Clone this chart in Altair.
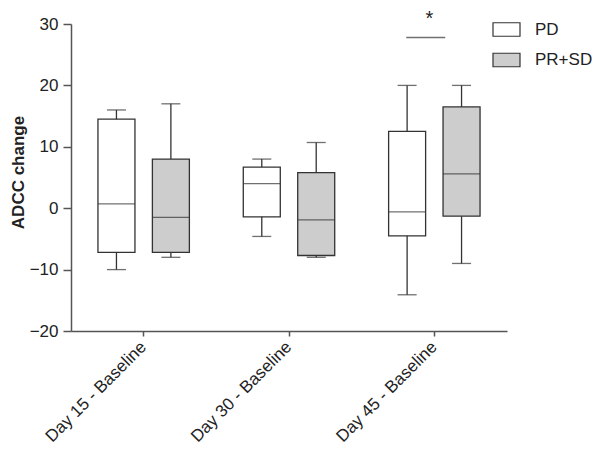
import altair as alt
import pandas as pd

categories = ["Day 15 - Baseline", "Day 30 - Baseline", "Day 45 - Baseline"]
groups = ["PD", "PR+SD"]

# box statistics (PD, PR+SD per category)
pd_low = [-10.0, -4.6, -14.1]
pd_q1 = [-7.2, -1.4, -4.5]
pd_med = [0.7, 4.0, -0.6]
pd_q3 = [14.5, 6.7, 12.5]
pd_high = [16.0, 8.0, 20.0]

prsd_low = [-8.0, -8.0, -9.0]
prsd_q1 = [-7.2, -7.7, -1.3]
prsd_med = [-1.5, -1.9, 5.6]
prsd_q3 = [8.0, 5.8, 16.5]
prsd_high = [17.0, 10.7, 20.0]

y_ticks = [-20, -10, 0, 10, 20, 30]

# significance annotation
sig_category = ["Day 45 - Baseline"]
sig_line_y = [27.8]
sig_star_y = [32.4]
sig_label = ["*"]

rows = []
for i, c in enumerate(categories):
    rows.append(dict(cat=c, grp="PD", low=pd_low[i], q1=pd_q1[i], med=pd_med[i], q3=pd_q3[i], high=pd_high[i]))
    rows.append(dict(cat=c, grp="PR+SD", low=prsd_low[i], q1=prsd_q1[i], med=prsd_med[i], q3=prsd_q3[i], high=prsd_high[i]))
df = pd.DataFrame(rows)
sig_df = pd.DataFrame(dict(cat=sig_category, y=sig_line_y, ys=sig_star_y, lab=sig_label))

INK = "#333333"
FONT = "Liberation Sans"

x_enc = alt.X(
    "cat:N",
    scale=alt.Scale(domain=categories, paddingInner=0, paddingOuter=0),
    axis=alt.Axis(
        title=None,
        labelAngle=-45,
        labelAlign="right",
        labelBaseline="middle",
        labelPadding=8,
        tickSize=5,
        labelFontSize=17,
        labelFont=FONT,
        labelColor="#222222",
        domainColor="#555555",
        tickColor="#555555",
        domainWidth=1.5,
        tickWidth=1.5,
    ),
)
xoff = alt.XOffset("grp:N", scale=alt.Scale(domain=groups, paddingInner=0, paddingOuter=0.335))
y_scale = alt.Scale(domain=[-20, 30], nice=False, zero=False)
y_axis = alt.Axis(
    title="ADCC change",
    values=y_ticks,
    grid=False,
    tickSize=8,
    labelPadding=5,
    labelFontSize=17,
    labelFont=FONT,
    labelColor="#222222",
    titleFont=FONT,
    titleFontSize=17,
    titleFontWeight="bold",
    titleColor="#222222",
    titleX=-44,
    titleY=148,
    titleAngle=270,
    titleAlign="center",
    titleBaseline="bottom",
    domainColor="#555555",
    tickColor="#555555",
    domainWidth=1.5,
    tickWidth=1.5,
)

base = alt.Chart(df)

whisker = base.mark_rule(color=INK, strokeWidth=1.3).encode(
    x=x_enc, xOffset=xoff,
    y=alt.Y("low:Q", scale=y_scale, axis=y_axis), y2="high:Q",
)

box = base.mark_bar(size=37, stroke=INK, strokeWidth=1.3).encode(
    x=x_enc, xOffset=xoff,
    y=alt.Y("q1:Q", scale=y_scale, axis=y_axis), y2="q3:Q",
    fill=alt.Fill(
        "grp:N",
        scale=alt.Scale(domain=groups, range=["#ffffff", "#cdcdcd"]),
        legend=alt.Legend(
            title=None,
            orient="none",
            legendX=421,
            legendY=-9,
            symbolType="M-1,-0.5H1V0.5H-1Z",
            symbolSize=729,
            symbolStrokeColor=INK,
            symbolStrokeWidth=1.2,
            labelFontSize=17,
            labelFont=FONT,
            labelColor="#222222",
            labelOffset=14,
            labelLimit=200,
            rowPadding=6.5,
            padding=0,
        ),
    ),
)

median = base.mark_tick(size=37, thickness=1.3, color=INK).encode(
    x=x_enc, xOffset=xoff, y=alt.Y("med:Q", scale=y_scale, axis=y_axis),
)
cap_low = base.mark_tick(size=19, thickness=1.3, color=INK).encode(
    x=x_enc, xOffset=xoff, y=alt.Y("low:Q", scale=y_scale, axis=y_axis),
)
cap_high = base.mark_tick(size=19, thickness=1.3, color=INK).encode(
    x=x_enc, xOffset=xoff, y=alt.Y("high:Q", scale=y_scale, axis=y_axis),
)

sig_line = alt.Chart(sig_df).mark_tick(size=39, thickness=1.3, color=INK, xOffset=-8.6).encode(
    x=x_enc, y=alt.Y("y:Q", scale=y_scale, axis=y_axis),
)
sig_star = alt.Chart(sig_df).mark_text(fontSize=20, font=FONT, color="#222222", dx=-5, baseline="top", clip=False).encode(
    x=x_enc, y=alt.Y("ys:Q", scale=y_scale, axis=y_axis), text="lab:N",
)

chart = alt.layer(whisker, box, median, cap_low, cap_high, sig_line, sig_star).properties(
    width=436,
    height=307,
    autosize="none",
    padding={"left": 63, "top": 16, "right": 85, "bottom": 118},
).configure(background="white").configure_view(stroke=None)

chart.save("out.html", embed_options={"renderer": "svg", "actions": False})
